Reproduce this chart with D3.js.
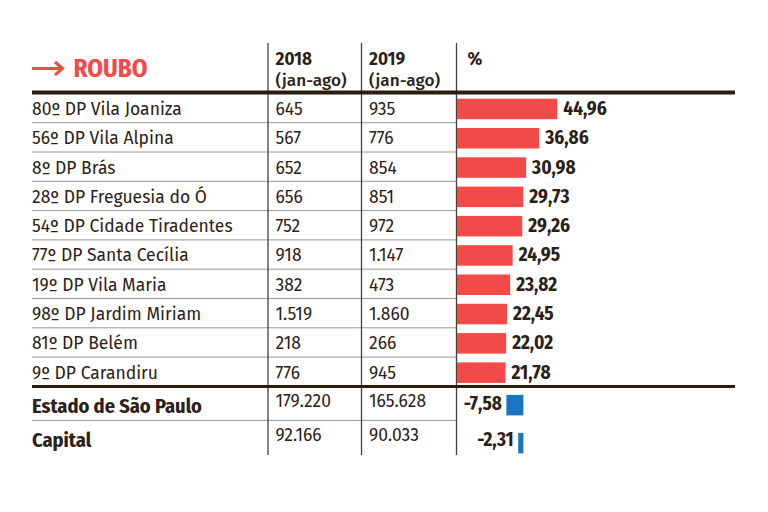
<!DOCTYPE html>
<html><head><meta charset="utf-8">
<script src="https://cdn.jsdelivr.net/npm/d3@7"></script>
<style>
html,body{margin:0;padding:0;background:#fff;}
svg{display:block;}
</style></head>
<body>
<script>
const title = "ROUBO";
const headers = ["2018", "2019", "%"];
const headerSub = "(jan-ago)";
const districts = ["80º DP Vila Joaniza","56º DP Vila Alpina","8º DP Brás","28º DP Freguesia do Ó","54º DP Cidade Tiradentes","77º DP Santa Cecília","19º DP Vila Maria","98º DP Jardim Miriam","81º DP Belém","9º DP Carandiru"];
const values2018 = ["645","567","652","656","752","918","382","1.519","218","776"];
const values2019 = ["935","776","854","851","972","1.147","473","1.860","266","945"];
const pctChange = [44.96,36.86,30.98,29.73,29.26,24.95,23.82,22.45,22.02,21.78];
const totals = ["Estado de São Paulo","Capital"];
const totals2018 = ["179.220","92.166"];
const totals2019 = ["165.628","90.033"];
const totalsPct = [-7.58,-2.31];

const W = 768, H = 512;
const ink = "#2b2118", red = "#f24a48", blue = "#1b74bf", grid = "#9a9590";
const bodyFont = "'Fira Sans','Noto Sans',sans-serif";
const condFont = "'Fira Sans Condensed','Fira Sans Extra Condensed','Roboto Condensed','Noto Sans',sans-serif";
const bodySize = 17.5;
const headSize = 17.2;
const fmt = v => d3.format(".2f")(v).replace(".", ",").replace("−", "-");

const svg = d3.select("body").append("svg").attr("width", W).attr("height", H);

// pick a font size (and, if needed, a horizontal squeeze) so a sample reaches the reference width
function fit(base, sample, target, maxSize) {
  const t = svg.append("text").attr("font-family", condFont).attr("font-weight", 700)
    .attr("font-size", base).text(sample);
  const w = t.node().getComputedTextLength();
  t.remove();
  let size = Math.min(base * target / w, maxSize), k = 1;
  if (size < base * 0.9) { k = size / (base * 0.9); size = base * 0.9; }
  return {size, k};
}
function condText(g, xpos, ypos, txt, f, anchor) {
  return g.append("text")
    .attr("transform", `translate(${xpos},${ypos}) scale(${f.k},1)`)
    .attr("text-anchor", anchor || "start")
    .attr("font-family", condFont).attr("font-weight", 700).attr("font-size", f.size)
    .text(txt);
}

const left = 32, right = 735;
const colX = [268, 361.5, 456.5];
const y = d3.scaleBand().domain(districts).range([93.4, 386.4]);
const yT = d3.scaleBand().domain(totals).range([386.4, 454.4]);
const x = d3.scaleLinear().domain([0, 45]).range([457, 557.4]);
const xNeg = d3.scaleLinear().domain([-29.6, 0]).range([457, 523.4]);

const fTitle = fit(22, "ROUBO", 74, 25);
const fTotal = fit(21, "Estado de São Paulo", 170, 23);
const fVal = fit(18, "44,96", 43.5, 21);

// header
const arrow = svg.append("g").attr("stroke", red).attr("stroke-width", 3).attr("fill", "none");
arrow.append("line").attr("x1", left).attr("x2", 62).attr("y1", 68.5).attr("y2", 68.5);
arrow.append("polyline").attr("points", "55,62 62.5,68.5 55,75");
condText(svg, 73.5, 76.5, title, fTitle).attr("fill", red);

headers.forEach((h, i) => {
  svg.append("text").attr("x", colX[i] + (i === 2 ? 11 : 7.5)).attr("y", 65)
    .attr("font-family", bodyFont).attr("font-weight", 700).attr("font-size", headSize).attr("fill", ink).text(h);
  if (i < 2) svg.append("text").attr("x", colX[i] + 7.5).attr("y", 85.8)
    .attr("font-family", bodyFont).attr("font-weight", 500).attr("font-size", headSize).attr("fill", ink).text(headerSub);
});

// grid separators
const seps = districts.slice(1).map(d => y(d));
svg.append("g").selectAll("line").data(seps).join("line")
  .attr("x1", left).attr("x2", colX[2]).attr("y1", d => d).attr("y2", d => d)
  .attr("stroke", grid).attr("stroke-width", 1);
svg.append("line").attr("x1", left).attr("x2", colX[2]).attr("y1", yT(totals[1])).attr("y2", yT(totals[1]))
  .attr("stroke", grid).attr("stroke-width", 1);

// verticals
svg.append("g").selectAll("line").data(colX).join("line")
  .attr("x1", d => d).attr("x2", d => d).attr("y1", 43).attr("y2", 455)
  .attr("stroke", "#4a3f36").attr("stroke-width", 1.3);

// thick rules
svg.append("line").attr("x1", left).attr("x2", right).attr("y1", 92.5).attr("y2", 92.5)
  .attr("stroke", "#2a1d10").attr("stroke-width", 4);
svg.append("line").attr("x1", left).attr("x2", right).attr("y1", 386.4).attr("y2", 386.4)
  .attr("stroke", "#2a1d10").attr("stroke-width", 3);

// district rows
const rows = svg.append("g").selectAll("g").data(districts).join("g");
rows.append("text").attr("x", left).attr("y", d => y(d) + 21.5).text(d => d)
  .attr("font-family", bodyFont).attr("font-size", bodySize).attr("fill", ink);
rows.append("text").attr("x", colX[0] + 7.5).attr("y", d => y(d) + 21.5).text((d, i) => values2018[i])
  .attr("font-family", bodyFont).attr("font-size", bodySize).attr("fill", ink);
rows.append("text").attr("x", colX[1] + 7.5).attr("y", d => y(d) + 21.5).text((d, i) => values2019[i])
  .attr("font-family", bodyFont).attr("font-size", bodySize).attr("fill", ink);
rows.append("rect").attr("x", x(0)).attr("y", d => y(d) + 5.3).attr("height", 20.5)
  .attr("width", (d, i) => x(pctChange[i]) - x(0)).attr("fill", red);
rows.each(function(d, i) {
  condText(d3.select(this), x(pctChange[i]) + 6, y(d) + 21.5, fmt(pctChange[i]), fVal).attr("fill", ink);
});

// totals rows
const trows = svg.append("g").selectAll("g").data(totals).join("g");
trows.each(function(d) {
  condText(d3.select(this), left, yT(d) + 27, d, fTotal).attr("fill", ink);
});
trows.append("text").attr("x", colX[0] + 7.5).attr("y", d => yT(d) + 21).text((d, i) => totals2018[i])
  .attr("font-family", bodyFont).attr("font-size", bodySize).attr("fill", ink);
trows.append("text").attr("x", colX[1] + 7.5).attr("y", d => yT(d) + 21).text((d, i) => totals2019[i])
  .attr("font-family", bodyFont).attr("font-size", bodySize).attr("fill", ink);
trows.append("rect").attr("x", (d, i) => xNeg(totalsPct[i])).attr("y", (d, i) => yT(d) + 8.5 + i * 4)
  .attr("height", 20.5).attr("width", (d, i) => xNeg(0) - xNeg(totalsPct[i])).attr("fill", blue);
trows.each(function(d, i) {
  condText(d3.select(this), xNeg(totalsPct[i]) - 4.5, yT(d) + 24 + i * 2, fmt(totalsPct[i]), fVal, "end")
    .attr("fill", ink);
});
</script>
</body></html>
